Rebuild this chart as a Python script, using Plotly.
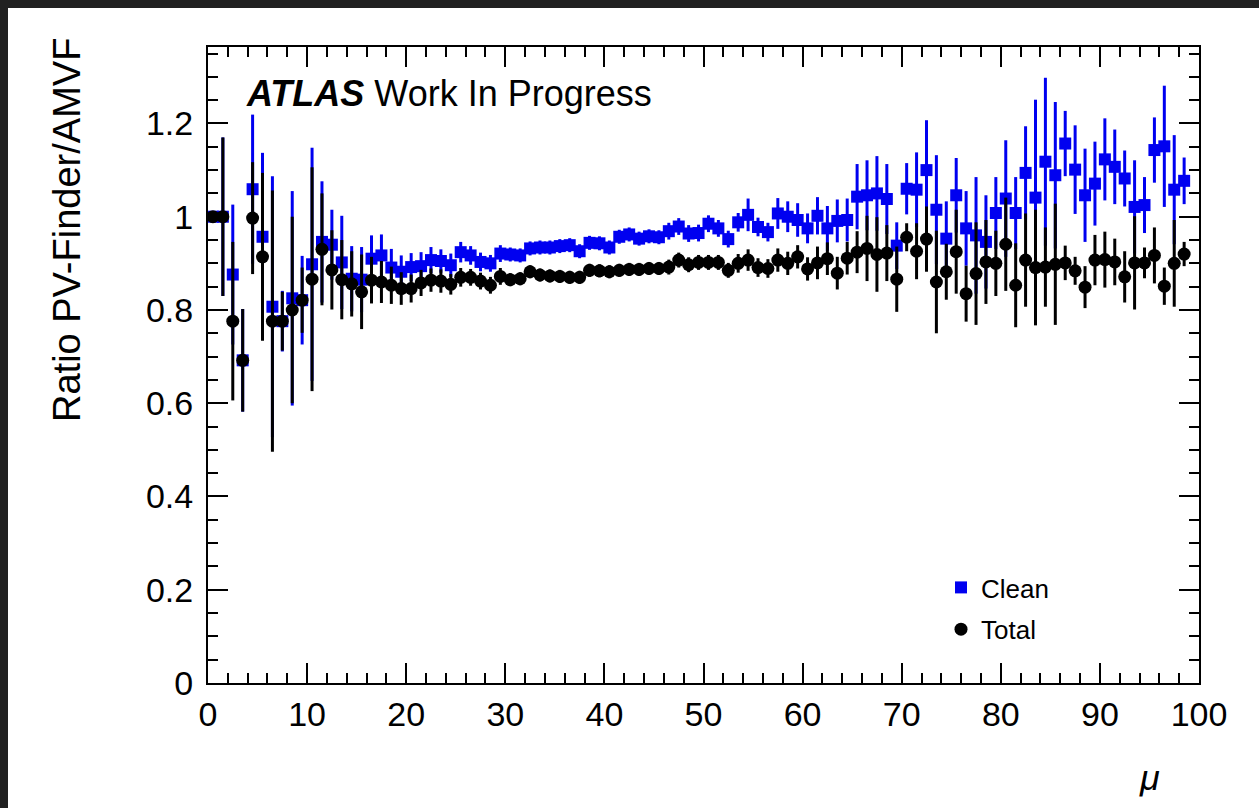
import numpy as np
import plotly.graph_objects as go

# Bin lower edges in mu (bin width 1); points sit at bin centres
mu_low = np.arange(0, 99)
mu_centre = mu_low + 0.5

# Ratio PV-Finder / AMVF for clean vertices
clean_ratio = [
    1.000, 1.000, 0.876, 0.692, 1.059, 0.957, 0.807, 0.776, 0.825, 0.821,
    0.898, 0.946, 0.940, 0.902, 0.867, 0.865, 0.910, 0.917, 0.891, 0.882,
    0.892, 0.894, 0.907, 0.905, 0.896, 0.924, 0.917, 0.903, 0.900, 0.921,
    0.919, 0.917, 0.932, 0.934, 0.934, 0.937, 0.939, 0.926, 0.944, 0.943,
    0.934, 0.957, 0.962, 0.953, 0.958, 0.956, 0.969, 0.979, 0.964, 0.965,
    0.985, 0.975, 0.952, 0.988, 1.004, 0.978, 0.967, 1.007, 1.000, 0.993,
    0.975, 1.002, 0.975, 0.991, 0.993, 1.043, 1.046, 1.050, 1.038, 0.938,
    1.060, 1.058, 1.100, 1.015, 0.953, 1.046, 0.975, 0.960, 0.946, 1.008,
    1.039, 1.008, 1.094, 1.041, 1.118, 1.089, 1.157, 1.101, 1.046, 1.071,
    1.123, 1.107, 1.082, 1.021, 1.025, 1.143, 1.151, 1.058, 1.077,
]
clean_err = [
    0.000, 0.170, 0.150, 0.110, 0.160, 0.180, 0.280, 0.065, 0.230, 0.095,
    0.250, 0.130, 0.075, 0.100, 0.070, 0.070, 0.050, 0.045, 0.040, 0.035,
    0.030, 0.030, 0.028, 0.025, 0.025, 0.022, 0.020, 0.020, 0.018, 0.018,
    0.015, 0.015, 0.015, 0.015, 0.015, 0.015, 0.015, 0.015, 0.015, 0.015,
    0.015, 0.015, 0.015, 0.015, 0.015, 0.015, 0.018, 0.018, 0.018, 0.018,
    0.018, 0.018, 0.018, 0.020, 0.035, 0.020, 0.020, 0.033, 0.033, 0.036,
    0.032, 0.040, 0.048, 0.046, 0.046, 0.070, 0.075, 0.080, 0.075, 0.050,
    0.055, 0.080, 0.107, 0.117, 0.080, 0.080, 0.080, 0.125, 0.100, 0.077,
    0.125, 0.077, 0.100, 0.210, 0.180, 0.157, 0.070, 0.095, 0.100, 0.090,
    0.088, 0.080, 0.060, 0.100, 0.060, 0.070, 0.130, 0.117, 0.050,
]

# Ratio PV-Finder / AMVF for all vertices
total_ratio = [
    1.000, 1.000, 0.776, 0.692, 0.997, 0.914, 0.776, 0.776, 0.800, 0.821,
    0.866, 0.930, 0.886, 0.865, 0.856, 0.839, 0.864, 0.860, 0.853, 0.846,
    0.846, 0.858, 0.864, 0.862, 0.855, 0.870, 0.870, 0.862, 0.853, 0.872,
    0.865, 0.867, 0.882, 0.875, 0.873, 0.872, 0.870, 0.870, 0.885, 0.884,
    0.882, 0.885, 0.887, 0.887, 0.889, 0.889, 0.892, 0.907, 0.897, 0.902,
    0.902, 0.902, 0.885, 0.900, 0.907, 0.891, 0.889, 0.907, 0.900, 0.914,
    0.888, 0.901, 0.910, 0.879, 0.911, 0.924, 0.932, 0.919, 0.922, 0.866,
    0.956, 0.926, 0.952, 0.860, 0.882, 0.925, 0.835, 0.878, 0.903, 0.900,
    0.941, 0.853, 0.907, 0.891, 0.892, 0.898, 0.901, 0.884, 0.849, 0.907,
    0.908, 0.903, 0.871, 0.901, 0.901, 0.917, 0.851, 0.900, 0.920,
]
total_err = [
    0.000, 0.170, 0.170, 0.110, 0.120, 0.180, 0.280, 0.063, 0.200, 0.070,
    0.240, 0.120, 0.085, 0.085, 0.070, 0.080, 0.050, 0.045, 0.040, 0.035,
    0.030, 0.028, 0.025, 0.025, 0.022, 0.020, 0.018, 0.018, 0.018, 0.018,
    0.014, 0.014, 0.014, 0.014, 0.014, 0.014, 0.014, 0.014, 0.014, 0.014,
    0.014, 0.014, 0.014, 0.014, 0.014, 0.014, 0.016, 0.016, 0.016, 0.016,
    0.016, 0.016, 0.016, 0.020, 0.023, 0.020, 0.020, 0.025, 0.025, 0.025,
    0.025, 0.035, 0.035, 0.035, 0.035, 0.045, 0.070, 0.080, 0.060, 0.070,
    0.030, 0.060, 0.070, 0.110, 0.060, 0.090, 0.060, 0.110, 0.090, 0.070,
    0.100, 0.090, 0.100, 0.124, 0.085, 0.130, 0.037, 0.030, 0.045, 0.054,
    0.060, 0.050, 0.055, 0.100, 0.033, 0.060, 0.040, 0.093, 0.026,
]

# y-axis tick values and their labels
y_tick_vals = [0.0, 0.2, 0.4, 0.6, 0.8, 1.0, 1.2]
y_tick_text = ["0", "0.2", "0.4", "0.6", "0.8", "1", "1.2"]

FONT = "Liberation Sans, Arial, Helvetica, sans-serif"
BLUE = "#0000f0"

fig = go.Figure()

fig.add_trace(go.Scatter(
    x=mu_centre, y=clean_ratio, mode="markers", name="Clean", legendgroup="clean",
    marker=dict(symbol="square", size=12, color=BLUE, line=dict(width=0)),
    error_y=dict(type="data", array=clean_err, color=BLUE, thickness=3, width=0),
    error_x=dict(type="constant", value=0.5, color=BLUE, thickness=2, width=0),
))
fig.add_trace(go.Scatter(
    x=mu_centre, y=total_ratio, mode="markers", name="Total", legendgroup="total",
    marker=dict(symbol="circle", size=13, color="black", line=dict(width=0)),
    error_y=dict(type="data", array=total_err, color="black", thickness=3, width=0),
    error_x=dict(type="constant", value=0.5, color="black", thickness=2, width=0),
))

axis_common = dict(
    showline=True, linewidth=2, linecolor="black", mirror="allticks",
    ticks="inside", ticklen=20, tickwidth=2, tickcolor="black",
    showgrid=False, zeroline=False,
    tickfont=dict(family=FONT, size=34, color="black"),
)

fig.update_xaxes(
    range=[0, 100], tick0=0, dtick=10,
    minor=dict(ticks="inside", ticklen=10, tickwidth=2, dtick=2, tickcolor="black", showgrid=False),
    **axis_common,
)
fig.update_yaxes(
    range=[0, 1.364], tickmode="array", tickvals=y_tick_vals, ticktext=y_tick_text,
    minor=dict(ticks="inside", ticklen=10, tickwidth=2, dtick=0.05, tick0=0,
               tickcolor="black", showgrid=False),
    ticklabelstandoff=6,
    **axis_common,
)

# dark strips along the top and left edges of the page
DARK = "#212121"
fig.add_shape(type="rect", xref="paper", yref="paper",
              x0=-0.3, x1=(8 - 208) / 991, y0=-0.3, y1=1.2,
              fillcolor=DARK, line=dict(width=0), layer="above")
fig.add_shape(type="rect", xref="paper", yref="paper",
              x0=-0.3, x1=1.3, y0=(683 - 8) / 636, y1=1.2,
              fillcolor=DARK, line=dict(width=0), layer="above")

fig.add_annotation(
    xref="paper", yref="paper", x=(244 - 208) / 991, y=(683 - 93) / 636,
    xanchor="left", yanchor="middle", showarrow=False,
    text="<b><i>ATLAS</i></b> Work In Progress",
    font=dict(family=FONT, size=36, color="black"),
)
fig.add_annotation(
    xref="paper", yref="paper", x=(67 - 208) / 991, y=(683 - 36) / 636,
    xanchor="center", yanchor="top", showarrow=False, textangle=-90,
    text="Ratio PV-Finder/AMVF",
    font=dict(family=FONT, size=38, color="black"),
)
fig.add_annotation(
    xref="paper", yref="paper", x=(1149 - 208) / 991, y=(683 - 777) / 636,
    xanchor="center", yanchor="middle", showarrow=False,
    text="<i>μ</i>",
    font=dict(family=FONT, size=36, color="black"),
)

fig.update_layout(
    width=1259, height=808,
    margin=dict(l=208, r=60, t=47, b=125, pad=0),
    paper_bgcolor="white", plot_bgcolor="white",
    showlegend=True,
    legend=dict(
        x=(941 - 208) / 991, y=(683 - 564) / 636, xanchor="left", yanchor="top",
        bgcolor="rgba(0,0,0,0)", borderwidth=0,
        font=dict(family=FONT, size=26, color="black"),
        traceorder="grouped", tracegroupgap=5, itemwidth=30,
    ),
)

fig.write_html("out.html")
